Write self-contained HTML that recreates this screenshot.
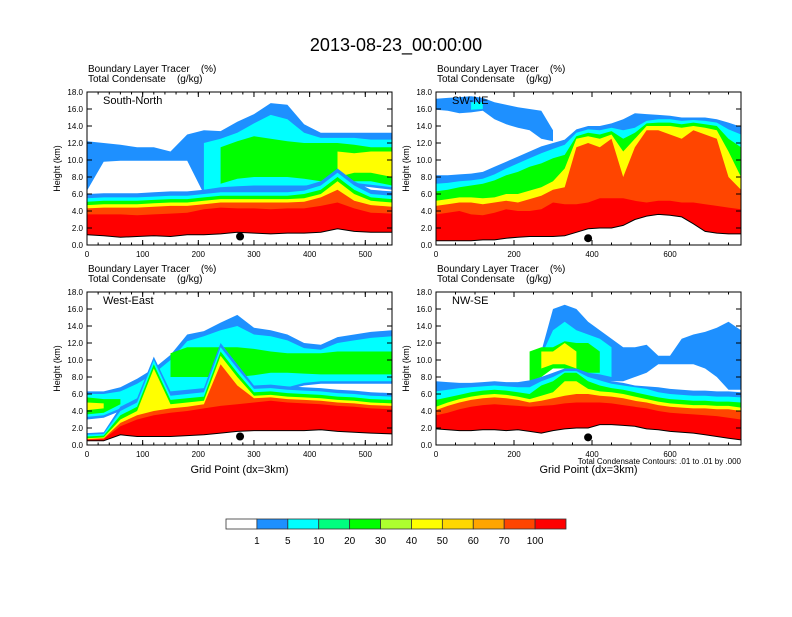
<!DOCTYPE html>
<html><head><meta charset="utf-8"><style>
body{margin:0;background:#fff}
svg text{font-family:"Liberation Sans",sans-serif;white-space:pre}
</style></head><body>
<svg id="chart" width="792" height="612" viewBox="0 0 792 612" xmlns="http://www.w3.org/2000/svg">
<text x="396" y="51" font-size="18" text-anchor="middle">2013-08-23_00:00:00</text>
<g id="panels"></g>
<g id="cbar"></g>
</svg>
<script>
const levelLabels=["1","5","10","20","30","40","50","60","70","100"];
const levelColors=["#ffffff","#1e90ff","#00ffff","#00ff7f","#00ff00","#adff2f","#ffff00","#ffd700","#ffa500","#ff4500","#ff0000"];
const panelNames=["South-North","SW-NE","West-East","NW-SE"];
const gxShort=[0,30,60,90,120,150,180,210,240,270,300,330,360,390,420,450,480,510,548];
const gxLong=[0,30,60,90,120,150,180,210,240,270,300,330,360,390,420,450,480,510,540,570,600,630,660,690,720,750,782];
const N=null;
// Panel 1
const p1Ground=[1.2,1.1,0.9,1.0,1.1,1.0,1.2,1.2,1.3,1.5,1.4,1.3,1.4,1.4,1.5,1.9,1.6,1.5,1.5];
const p1Red=[3.6,3.6,3.6,3.5,3.6,3.7,3.8,4.2,4.4,4.3,4.3,4.2,4.3,4.3,4.6,5.0,4.3,3.8,3.7];
const p1Orange=[4.3,4.4,4.4,4.4,4.5,4.6,4.6,4.8,5.0,5.0,5.0,5.0,5.0,5.1,5.6,6.5,5.2,4.7,4.5];
const p1Yellow=[4.7,4.8,4.8,4.8,4.9,5.0,5.0,5.2,5.4,5.4,5.4,5.4,5.4,5.5,6.0,7.5,6.0,5.2,5.0];
const p1Green=[5.1,5.2,5.2,5.2,5.3,5.4,5.4,5.6,5.8,5.8,5.8,5.8,5.8,6.0,6.5,8.0,6.5,5.6,5.4];
const p1Cyan=[5.5,5.6,5.6,5.6,5.7,5.8,5.8,6.0,6.2,6.2,6.2,6.2,6.2,6.4,7.0,8.5,7.0,6.0,5.8];
const p1Blue=[6.0,6.1,6.1,6.1,6.2,6.3,6.3,6.5,6.7,6.7,6.7,6.7,6.7,6.9,7.5,9.0,7.5,6.5,6.3];
const p1UpBlueBot=[6.4,9.8,9.9,9.9,9.9,9.9,9.9,6.0,6.2,6.3,6.5,6.5,6.6,6.6,6.7,7.0,7.0,6.8,6.5];
const p1UpBlueTop=[12.2,12.0,11.8,11.5,11.5,11.0,13.0,13.5,13.4,14.5,15.4,16.7,16.5,14.2,13.2,13.2,13.2,13.2,13.2];
const p1UpCyanBot=[N,N,N,N,N,N,N,6.5,6.8,6.9,7.0,7.0,7.0,7.0,7.1,7.3,7.3,7.1,6.8];
const p1UpCyanTop=[N,N,N,N,N,N,N,12.0,12.5,13.2,14.3,15.3,14.8,13.2,12.6,12.6,12.6,12.4,12.4];
const p1UpGreenBot=[N,N,N,N,N,N,N,N,7.2,7.8,8.0,8.0,8.0,7.8,7.5,7.5,7.5,7.5,7.0];
const p1UpGreenTop=[N,N,N,N,N,N,N,N,11.5,12.2,12.8,12.5,12.2,12.0,12.0,12.0,11.8,11.5,11.5];
const p1UpYellowBot=[N,N,N,N,N,N,N,N,N,N,N,N,N,N,N,8.0,8.5,8.5,8.0];
const p1UpYellowTop=[N,N,N,N,N,N,N,N,N,N,N,N,N,N,N,11.0,10.8,11.0,11.0];
// Panel 2
const p2Ground=[0.5,0.5,0.5,0.5,0.6,0.6,0.8,0.9,1.0,1.0,1.0,1.1,1.5,1.9,2.0,2.0,2.3,3.0,3.4,3.6,3.5,3.3,2.5,1.6,1.4,1.3,1.3];
const p2Red=[3.6,3.8,4.0,3.6,3.5,3.8,4.2,4.0,4.0,4.2,5.0,4.8,4.8,5.0,5.5,5.5,5.5,5.2,5.0,5.2,5.2,5.0,5.0,4.8,4.6,4.4,4.2];
const p2Orange=[4.6,4.8,5.0,5.0,4.8,5.0,5.2,5.0,5.4,5.8,6.5,6.8,11.5,12.0,11.5,12.5,8.0,11.5,13.5,13.5,13.0,12.5,13.5,13.0,12.5,8.0,6.5];
const p2Yellow=[5.2,5.4,5.6,5.6,5.5,5.6,6.0,6.0,6.4,6.8,7.5,9.0,12.5,12.8,12.5,13.0,11.0,12.5,14.0,14.0,14.0,13.8,14.0,13.8,13.5,11.0,8.0];
const p2Green=[6.3,6.5,6.8,7.0,7.2,7.6,8.2,8.6,9.2,9.6,10.2,10.6,12.8,13.2,13.0,13.4,12.5,13.2,14.3,14.4,14.4,14.2,14.4,14.2,14.0,12.5,11.5];
const p2Cyan=[7.2,7.3,7.5,7.6,7.8,8.3,9.0,9.6,10.2,10.8,11.3,11.8,13.2,13.6,13.5,13.8,13.5,13.8,14.6,14.8,14.8,14.6,14.7,14.6,14.4,13.6,13.0];
const p2Blue=[8.2,8.2,8.3,8.4,8.6,9.2,9.8,10.4,11.0,11.6,12.0,12.4,13.6,14.0,14.0,14.3,14.8,15.5,15.4,15.3,15.2,15.0,15.0,15.0,14.8,14.4,13.9];
const p2UpBlueBot=[15.9,15.8,15.5,15.6,15.8,14.8,14.2,13.8,13.5,12.5,12.2,N,N,N,N,N,N,N,N,N,N,N,N,N,N,N,N];
const p2UpBlueTop=[17.2,17.3,17.4,17.5,17.3,16.8,16.5,16.2,16.0,15.8,13.5,N,N,N,N,N,N,N,N,N,N,N,N,N,N,N,N];
const p2UpCyanBot=[N,N,N,15.9,16.0,N,N,N,N,N,N,N,N,N,N,N,N,N,N,N,N,N,N,N,N,N,N];
const p2UpCyanTop=[N,N,N,16.8,16.8,N,N,N,N,N,N,N,N,N,N,N,N,N,N,N,N,N,N,N,N,N,N];
// Panel 3
const p3Ground=[0.5,0.5,1.2,1.0,1.0,1.0,1.1,1.2,1.4,1.6,1.7,1.7,1.7,1.7,1.8,1.6,1.5,1.4,1.3];
const p3Red=[0.6,0.7,2.2,3.0,3.5,3.8,4.0,4.3,4.6,4.8,5.0,5.2,5.0,4.9,4.8,4.6,4.5,4.3,4.2];
const p3Orange=[0.7,0.8,2.6,3.5,4.0,4.3,4.5,4.8,9.5,7.0,5.5,5.6,5.4,5.3,5.2,5.0,4.9,4.7,4.6];
const p3Yellow=[0.8,0.9,3.0,4.0,9.0,4.8,5.0,5.2,10.5,8.0,5.8,5.9,5.7,5.6,5.5,5.3,5.2,5.0,4.9];
const p3Green=[1.0,1.1,3.5,4.5,9.5,5.3,5.5,5.7,11.0,8.5,6.2,6.3,6.1,6.0,5.9,5.7,5.6,5.4,5.3];
const p3Cyan=[1.2,1.3,4.0,5.0,10.0,5.8,6.0,6.2,11.5,9.0,6.6,6.7,6.5,6.4,6.3,6.1,6.0,5.8,5.7];
const p3Blue=[1.4,1.5,4.5,5.5,10.4,6.3,6.5,6.7,12.0,9.5,7.0,7.1,6.9,6.8,6.7,6.5,6.4,6.2,6.1];
const p3UpBlueBot=[3.0,3.2,4.0,5.0,5.0,5.5,5.5,6.0,6.0,6.0,6.5,6.5,6.5,7.0,7.2,7.2,7.2,7.2,7.2];
const p3UpBlueTop=[6.3,6.3,6.8,7.8,9.0,10.6,13.0,13.4,14.4,15.3,13.8,13.5,13.0,12.0,11.8,12.7,13.0,13.3,13.5];
const p3UpCyanBot=[3.3,3.5,4.3,5.3,5.3,5.8,5.8,6.3,6.3,6.3,6.8,6.8,6.8,7.3,7.5,7.5,7.5,7.5,7.5];
const p3UpCyanTop=[6.0,6.0,6.3,7.2,8.4,10.0,12.2,12.8,13.5,14.0,13.0,12.8,12.3,11.4,11.2,12.0,12.3,12.6,12.8];
const p3UpGreenBot=[3.6,3.8,4.8,N,N,8.0,8.0,8.0,8.0,8.0,8.2,8.5,8.5,8.4,8.3,8.3,8.3,8.3,8.3];
const p3UpGreenTop=[5.6,5.4,5.4,N,N,10.8,11.5,11.5,11.5,11.5,11.3,11.0,10.8,10.8,10.8,11.0,11.0,11.0,11.0];
const p3UpYellowBot=[4.1,4.3,N,N,N,N,N,N,N,N,N,N,N,N,N,N,N,N,N];
const p3UpYellowTop=[5.0,4.9,N,N,N,N,N,N,N,N,N,N,N,N,N,N,N,N,N];
// Panel 4
const p4Ground=[1.9,1.8,1.7,1.7,1.8,1.8,1.7,1.8,1.6,1.4,1.7,1.9,2.0,2.0,2.4,2.4,2.3,2.2,1.9,1.8,1.6,1.5,1.4,1.2,1.0,0.8,0.6];
const p4Red=[3.5,3.8,4.2,4.5,4.7,4.8,4.7,4.6,4.5,4.6,4.7,4.9,5.0,5.0,5.0,4.9,4.7,4.5,4.3,4.0,3.8,3.7,3.6,3.5,3.4,3.2,3.0];
const p4Orange=[4.1,4.6,5.0,5.3,5.5,5.6,5.5,5.3,5.0,5.2,5.5,5.8,6.0,6.0,5.8,5.7,5.5,5.2,5.0,4.7,4.5,4.4,4.3,4.3,4.2,4.2,4.0];
const p4Yellow=[4.5,5.0,5.4,5.7,5.9,6.0,5.9,5.7,5.4,5.8,6.2,7.5,7.5,6.6,6.3,6.2,6.0,5.7,5.4,5.1,4.9,4.8,4.7,4.7,4.6,4.6,4.4];
const p4Green=[5.3,5.6,5.9,6.2,6.4,6.5,6.4,6.2,6.0,7.0,7.5,8.5,8.5,7.5,7.0,6.7,6.5,6.2,5.9,5.6,5.4,5.3,5.2,5.2,5.1,5.1,5.0];
const p4Cyan=[6.3,6.5,6.7,6.8,6.9,7.0,6.9,6.8,6.8,7.5,8.0,8.7,8.7,8.0,7.6,7.2,7.0,6.8,6.6,6.2,6.0,5.9,5.8,5.8,5.7,5.7,5.6];
const p4Blue=[7.5,7.4,7.3,7.3,7.4,7.5,7.4,7.4,7.6,8.0,8.5,9.0,9.0,8.5,8.0,7.5,7.3,7.0,6.9,6.8,6.6,6.5,6.4,6.4,6.3,6.3,6.2];
const p4UpBlueBot=[N,N,N,N,N,N,N,N,N,8.0,9.5,9.0,8.5,8.0,7.8,7.5,7.5,8.0,8.5,9.5,9.5,9.5,9.5,9.0,8.0,6.5,6.5];
const p4UpBlueTop=[N,N,N,N,N,N,N,N,N,11.0,16.0,16.5,16.0,14.5,13.5,12.5,11.5,11.5,11.8,10.5,10.5,12.5,13.0,13.3,13.8,14.5,13.5];
const p4UpCyanBot=[N,N,N,N,N,N,N,N,N,8.5,10.0,9.5,9.0,8.5,8.3,8.0,N,N,N,N,N,N,N,N,N,N,N];
const p4UpCyanTop=[N,N,N,N,N,N,N,N,N,10.5,13.5,14.5,13.5,13.0,12.5,11.5,N,N,N,N,N,N,N,N,N,N,N];
const p4UpGreenBot=[N,N,N,N,N,N,N,N,7.5,8.0,9.0,9.0,8.5,8.5,8.5,N,N,N,N,N,N,N,N,N,N,N,N];
const p4UpGreenTop=[N,N,N,N,N,N,N,N,11.0,11.5,11.5,12.2,12.0,12.0,11.0,N,N,N,N,N,N,N,N,N,N,N,N];
const p4UpYellowBot=[N,N,N,N,N,N,N,N,N,9.0,9.5,9.5,9.0,N,N,N,N,N,N,N,N,N,N,N,N,N,N];
const p4UpYellowTop=[N,N,N,N,N,N,N,N,N,11.0,11.0,12.0,11.0,N,N,N,N,N,N,N,N,N,N,N,N,N,N];
const dotGrid=[275,390,275,390];
const dotKm=[1.0,0.8,1.0,0.9];

const panels=[
 {x0:87,x1:392,y0:92,y1:245,xmax:548,gx:gxShort,xt:[0,100,200,300,400,500],minor:20,ground:p1Ground,
  lower:[p1Blue,p1Cyan,p1Green,p1Yellow,p1Orange,p1Red],
  upper:[[p1UpBlueBot,p1UpBlueTop,1],[p1UpCyanBot,p1UpCyanTop,2],[p1UpGreenBot,p1UpGreenTop,4],[p1UpYellowBot,p1UpYellowTop,6]],xlabel:false},
 {x0:436,x1:741,y0:92,y1:245,xmax:782,gx:gxLong,xt:[0,200,400,600],minor:50,ground:p2Ground,
  lower:[p2Blue,p2Cyan,p2Green,p2Yellow,p2Orange,p2Red],
  upper:[[p2UpBlueBot,p2UpBlueTop,1],[p2UpCyanBot,p2UpCyanTop,2]],xlabel:false},
 {x0:87,x1:392,y0:292,y1:445,xmax:548,gx:gxShort,xt:[0,100,200,300,400,500],minor:20,ground:p3Ground,
  lower:[p3Blue,p3Cyan,p3Green,p3Yellow,p3Orange,p3Red],
  upper:[[p3UpBlueBot,p3UpBlueTop,1],[p3UpCyanBot,p3UpCyanTop,2],[p3UpGreenBot,p3UpGreenTop,4],[p3UpYellowBot,p3UpYellowTop,6]],xlabel:true},
 {x0:436,x1:741,y0:292,y1:445,xmax:782,gx:gxLong,xt:[0,200,400,600],minor:50,ground:p4Ground,
  lower:[p4Blue,p4Cyan,p4Green,p4Yellow,p4Orange,p4Red],
  upper:[[p4UpBlueBot,p4UpBlueTop,1],[p4UpCyanBot,p4UpCyanTop,2],[p4UpGreenBot,p4UpGreenTop,4],[p4UpYellowBot,p4UpYellowTop,6]],xlabel:true}
];
const lowerColorIdx=[1,2,4,6,9,10];
const NS="http://www.w3.org/2000/svg";
function mk(tag,attrs,parent){const e=document.createElementNS(NS,tag);for(const k in attrs)e.setAttribute(k,attrs[k]);parent.appendChild(e);return e;}
const root=document.getElementById('panels');
panels.forEach((p,pi)=>{
 const g=mk('g',{},root);
 
 
 const X=v=>p.x0+(v/p.xmax)*(p.x1-p.x0);
 const Y=km=>p.y1-(km/18)*(p.y1-p.y0);
 const cp=mk('clipPath',{id:'clip'+pi},g);
 mk('rect',{x:p.x0,y:p.y0,width:p.x1-p.x0,height:p.y1-p.y0},cp);
 const plot=mk('g',{'clip-path':'url(#clip'+pi+')'},g);
 
 
 function band(bot,top,color,name){
  let seg=[];
  const flush=()=>{ if(seg.length>1){
    let d='M'+seg.map(i=>X(p.gx[i]).toFixed(1)+','+Y(top[i]).toFixed(1)).join('L');
    d+='L'+seg.slice().reverse().map(i=>X(p.gx[i]).toFixed(1)+','+Y(bot[i]).toFixed(1)).join('L')+'Z';
    const el=mk('path',{d:d,fill:color},plot);
    
    
  } seg=[]; };
  for(let i=0;i<p.gx.length;i++){ if(bot[i]!==null&&top[i]!==null) seg.push(i); else flush(); }
  flush();
 }
 p.upper.forEach(u=>band(u[0],u[1],levelColors[u[2]],'upper-band'));
 p.lower.forEach((arr,li)=>band(p.ground,arr,levelColors[lowerColorIdx[li]],'lower-band'));
 const zero=p.gx.map(()=>0);
 band(zero,p.ground,'#ffffff','terrain');
 const gl=mk('polyline',{points:p.gx.map((v,i)=>X(v).toFixed(1)+','+Y(p.ground[i]).toFixed(1)).join(' '),fill:'none',stroke:'#000','stroke-width':1},plot);
 
 
 const dot=mk('circle',{cx:X(dotGrid[pi]),cy:Y(dotKm[pi]),r:4,fill:'#000'},g);
 
 
 const frame=mk('rect',{x:p.x0,y:p.y0,width:p.x1-p.x0,height:p.y1-p.y0,fill:'none',stroke:'#000','stroke-width':1},g);
 
 
 for(let k=0;k<=18;k+=2){
  const y=Y(k);
  mk('line',{x1:p.x0,x2:p.x0+5,y1:y,y2:y,stroke:'#000'},g);
  mk('line',{x1:p.x1,x2:p.x1-5,y1:y,y2:y,stroke:'#000'},g);
  const t=mk('text',{x:p.x0-4,y:y+3,'font-size':8,'text-anchor':'end'},g);
  t.textContent=k.toFixed(1);
  
  
 }
 for(let m=0;m<=p.xmax;m+=p.minor){
  const x=X(m);
  mk('line',{x1:x,x2:x,y1:p.y1,y2:p.y1-2.5,stroke:'#000'},g);
  mk('line',{x1:x,x2:x,y1:p.y0,y2:p.y0+2.5,stroke:'#000'},g);
 }
 p.xt.forEach(v=>{
  const x=X(v);
  mk('line',{x1:x,x2:x,y1:p.y1,y2:p.y1-5,stroke:'#000'},g);
  mk('line',{x1:x,x2:x,y1:p.y0,y2:p.y0+5,stroke:'#000'},g);
  const t=mk('text',{x:x,y:p.y1+12,'font-size':8,'text-anchor':'middle'},g);
  t.textContent=v;
  
  
 });
 const yt=mk('text',{x:0,y:0,'font-size':9,'text-anchor':'middle',transform:'translate('+(p.x0-27)+','+((p.y0+p.y1)/2)+') rotate(-90)'},g);
 yt.textContent='Height (km)';
 
 
 const h1=mk('text',{x:p.x0+1,y:p.y0-20,'font-size':10},g);
 h1.textContent='Boundary Layer Tracer    (%)';
 
 
 const h2=mk('text',{x:p.x0+1,y:p.y0-10,'font-size':10},g);
 h2.textContent='Total Condensate    (g/kg)';
 
 
 const pl=mk('text',{x:p.x0+16,y:p.y0+12,'font-size':11},g);
 pl.textContent=panelNames[pi];
 
 
 if(p.xlabel){
  const xl=mk('text',{x:(p.x0+p.x1)/2,y:p.y1+28,'font-size':11,'text-anchor':'middle'},g);
  xl.textContent='Grid Point (dx=3km)';
  
  
 }
 if(pi===3){
  const c=mk('text',{x:p.x1,y:p.y1+19,'font-size':8,'text-anchor':'end'},g);
  c.textContent='Total Condensate Contours: .01 to .01 by .000';
  
  
 }
});
const cb=document.getElementById('cbar');
const cbx0=226,cbx1=566,cby=519,cbh=10,bw=(cbx1-cbx0)/levelColors.length;
levelColors.forEach((c,i)=>{
 const r=mk('rect',{x:cbx0+i*bw,y:cby,width:bw,height:cbh,fill:c,stroke:'#333','stroke-width':0.8},cb);
 
 
});
levelLabels.forEach((l,i)=>{
 const t=mk('text',{x:cbx0+(i+1)*bw,y:544,'font-size':10,'text-anchor':'middle'},cb);
 t.textContent=l;
 
 
});
</script>
</body></html>
